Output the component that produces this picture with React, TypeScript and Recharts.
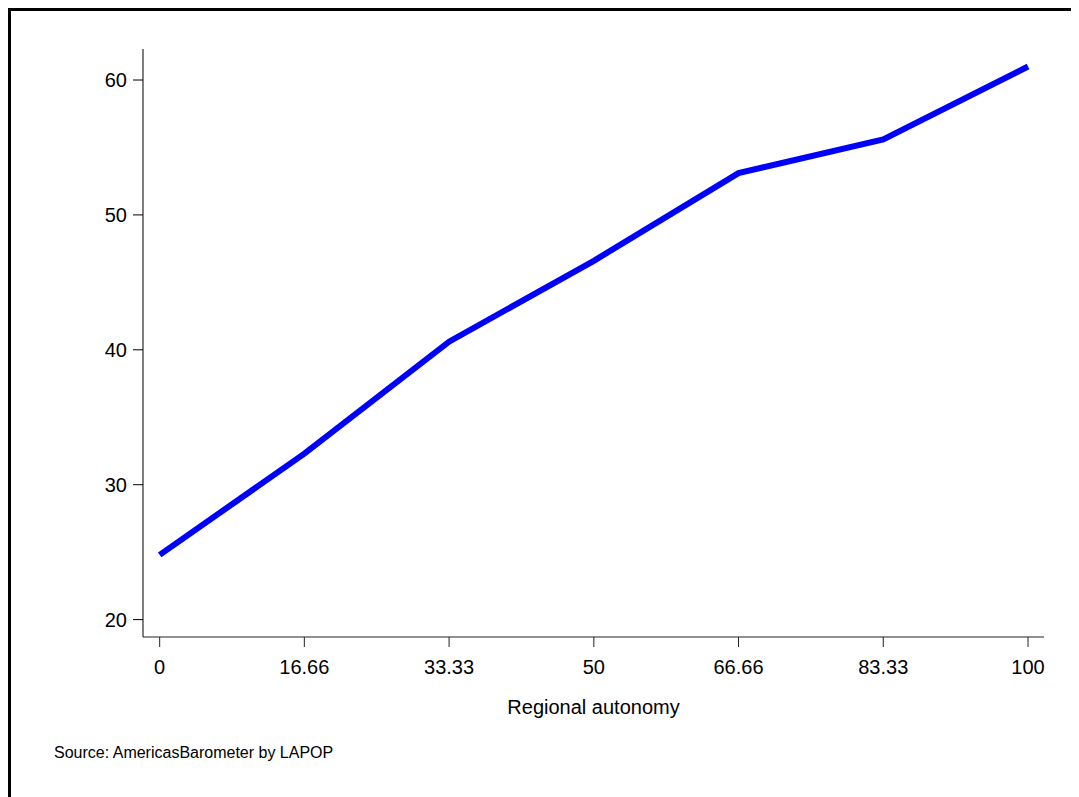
import React from 'react';
import { LineChart, Line, XAxis, YAxis } from 'recharts';

// Regional autonomy score (x) and the plotted outcome (y)
const autonomy = [0, 16.66, 33.33, 50, 66.66, 83.33, 100];
const outcome = [24.8, 32.3, 40.6, 46.6, 53.1, 55.6, 61.0];

const xTicks = [0, 16.66, 33.33, 50, 66.66, 83.33, 100];
const yTicks = [20, 30, 40, 50, 60];

const data = autonomy.map((a, i) => ({ autonomy: a, value: outcome[i] }));

const FONT = '"Liberation Sans", Arial, Helvetica, sans-serif';

export default function App() {
  return (
    <div style={{ position: 'relative', width: 1071, height: 789, fontFamily: FONT }}>
      {/* frame: top and left edges only */}
      <div
        style={{
          position: 'absolute',
          left: 0,
          top: 0,
          width: 1071,
          height: 789,
          borderTop: '3px solid #000',
          borderLeft: '3px solid #000',
          boxSizing: 'border-box',
        }}
      />
      <div style={{ position: 'absolute', left: -8, top: -8 }}>
        <LineChart
          width={1079}
          height={797}
          data={data}
          margin={{ top: 49, right: 35, left: 63, bottom: 97 }}
        >
          <XAxis
            dataKey="autonomy"
            type="number"
            domain={[-1.92, 101.84]}
            ticks={xTicks}
            interval={0}
            height={63}
            tickSize={10}
            tickMargin={13}
            axisLine={{ stroke: '#222', strokeWidth: 1 }}
            tickLine={{ stroke: '#222', strokeWidth: 1 }}
            tick={{ fill: '#000', fontSize: 20, fontFamily: FONT }}
            tickFormatter={(v: number) => String(v)}
            label={{
              value: 'Regional autonomy',
              position: 'bottom',
              offset: 0,
              fill: '#000',
              fontSize: 20,
              fontFamily: FONT,
            }}
          />
          <YAxis
            type="number"
            domain={[18.71, 62.3]}
            ticks={yTicks}
            interval={0}
            width={80}
            tickSize={10}
            tickMargin={6}
            axisLine={{ stroke: '#000', strokeWidth: 1 }}
            tickLine={{ stroke: '#000', strokeWidth: 1 }}
            tick={{ fill: '#000', fontSize: 20, fontFamily: FONT }}
          />
          <Line
            type="linear"
            dataKey="value"
            stroke="#0000ff"
            strokeWidth={6}
            dot={false}
            activeDot={false}
            isAnimationActive={false}
          />
        </LineChart>
      </div>
      <div
        style={{
          position: 'absolute',
          left: 46,
          top: 735,
          fontSize: 16,
          color: '#000',
          whiteSpace: 'nowrap',
          lineHeight: '20px',
        }}
      >
        Source: AmericasBarometer by LAPOP
      </div>
    </div>
  );
}
